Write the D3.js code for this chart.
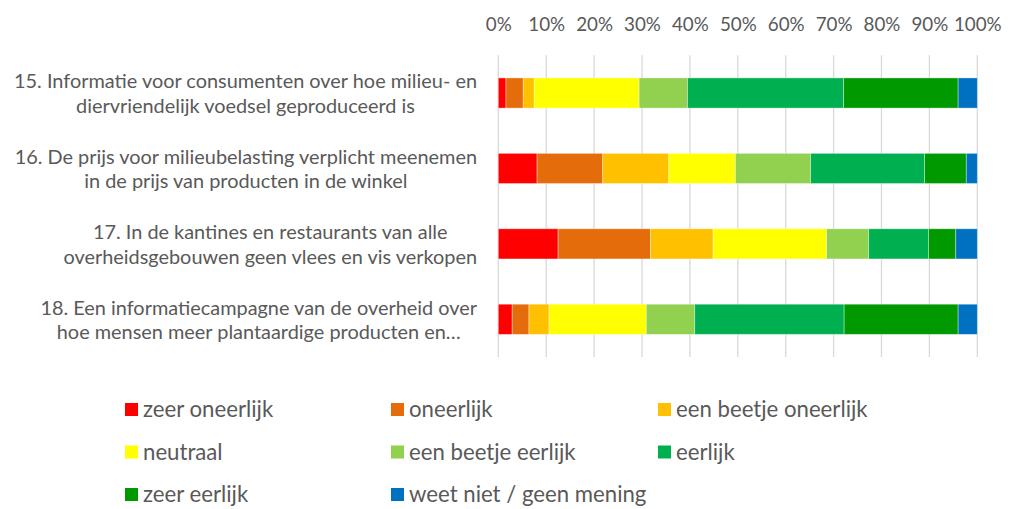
<!DOCTYPE html>
<html>
<head>
<meta charset="utf-8">
<script src="https://cdn.jsdelivr.net/npm/d3@7"></script>
<style>
  html, body { margin: 0; padding: 0; background: #fff; }
  svg { display: block; }
  text { font-family: Lato, "Open Sans", sans-serif; fill: #595959; }
</style>
</head>
<body>
<svg id="chart" width="1018" height="509"></svg>
<script>
// ---- data ----
const categories = [
  ["15. Informatie voor consumenten over hoe milieu- en", "diervriendelijk voedsel geproduceerd is"],
  ["16. De prijs voor milieubelasting verplicht meenemen", "in de prijs van producten in de winkel"],
  ["17. In de kantines en restaurants van alle", "overheidsgebouwen geen vlees en vis verkopen"],
  ["18. Een informatiecampagne van de overheid over", "hoe mensen meer plantaardige producten en…"]
];
const seriesNames = ["zeer oneerlijk", "oneerlijk", "een beetje oneerlijk", "neutraal",
  "een beetje eerlijk", "eerlijk", "zeer eerlijk", "weet niet / geen mening"];
const seriesColors = ["#FF0000", "#E46C0A", "#FFC000", "#FFFF00", "#92D050", "#00B050", "#009900", "#0070C0"];
const zeerOneerlijk = [1.6, 8.1, 12.5, 2.9];
const oneerlijk     = [3.6, 13.7, 19.3, 3.5];
const beetjeOneerlijk = [2.3, 13.8, 13.1, 4.2];
const neutraal      = [21.9, 13.9, 23.7, 20.3];
const beetjeEerlijk = [10.1, 15.7, 8.8, 10.1];
const eerlijk       = [32.6, 23.8, 12.5, 31.2];
const zeerEerlijk   = [23.9, 8.7, 5.7, 23.8];
const weetNiet      = [4.0, 2.3, 4.5, 4.0];
const tickValues = [0, 0.1, 0.2, 0.3, 0.4, 0.5, 0.6, 0.7, 0.8, 0.9, 1.0];

const seriesValues = [zeerOneerlijk, oneerlijk, beetjeOneerlijk, neutraal, beetjeEerlijk, eerlijk, zeerEerlijk, weetNiet];

// ---- build table ----
const table = categories.map((c, i) => {
  const row = { key: i };
  seriesNames.forEach((s, j) => row[s] = seriesValues[j][i]);
  return row;
});
const stacked = d3.stack().keys(seriesNames).offset(d3.stackOffsetExpand)(table);

const svg = d3.select("#chart");
const FS_TICK = 18.8;
const FS_LABEL = 19.9;
const FS_LEG = 22.2;

const x = d3.scaleLinear().domain([0, 1]).range([498.3, 977.3]);
const y = d3.scaleBand().domain(d3.range(categories.length)).range([55.3, 357])
  .paddingInner(0.6).paddingOuter(0.3);
const color = d3.scaleOrdinal().domain(seriesNames).range(seriesColors);

// gridlines
svg.append("g").selectAll("line").data(tickValues).join("line")
  .attr("x1", d => x(d)).attr("x2", d => x(d))
  .attr("y1", 55.3).attr("y2", 357)
  .attr("stroke", "#d9d9d9").attr("stroke-width", 1.3);

// top axis labels
const axis = d3.axisTop(x).tickValues(tickValues).tickFormat(d3.format(".0%")).tickSize(0).tickPadding(0);
const ag = svg.append("g").attr("transform", "translate(0,30.5)").call(axis);
ag.select(".domain").remove();
ag.selectAll("text").attr("font-size", FS_TICK).attr("dy", 0)
  .style("font-family", "Lato, 'Open Sans', sans-serif").style("fill", "#595959");

// bars
svg.append("g").selectAll("g").data(stacked).join("g")
  .attr("fill", d => color(d.key))
  .selectAll("rect").data(d => d).join("rect")
  .attr("x", d => x(d[0]))
  .attr("width", d => x(d[1]) - x(d[0]))
  .attr("y", (d, i) => y(i))
  .attr("height", y.bandwidth())
  .attr("stroke", "rgba(255,255,255,0.45)").attr("stroke-width", 0.8);

// category labels
const labelRight = 477;
const lg = svg.append("g");
categories.forEach((lines, i) => {
  const cy = y(i) + y.bandwidth() / 2;
  const texts = lines.map((ln, k) => lg.append("text")
    .attr("font-size", FS_LABEL)
    .attr("text-anchor", "middle")
    .attr("y", cy - 4.6 + k * 24.3)
    .text(ln));
  const w = d3.max(texts, t => t.node().getComputedTextLength());
  texts.forEach(t => t.attr("x", labelRight - w / 2));
});

// legend
const legX = [125, 391, 658];
const legY = [417, 459.5, 502];
const leg = svg.append("g").selectAll("g").data(seriesNames).join("g")
  .attr("transform", (d, i) => `translate(${legX[i % 3]},${legY[Math.floor(i / 3)]})`);
leg.append("rect").attr("x", 0).attr("y", -14).attr("width", 13).attr("height", 13)
  .attr("fill", d => color(d));
leg.append("text").attr("x", 18).attr("y", 0).attr("font-size", FS_LEG).text(d => d);
</script>
</body>
</html>
